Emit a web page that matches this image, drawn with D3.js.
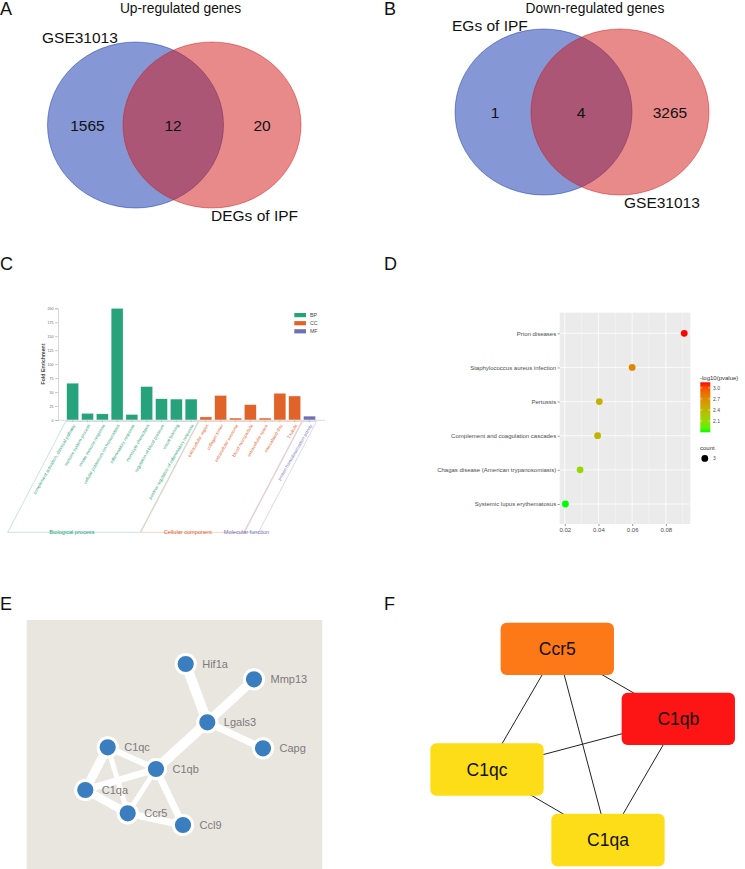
<!DOCTYPE html>
<html><head><meta charset="utf-8">
<script src="https://cdn.jsdelivr.net/npm/d3@7"></script>
<style>
body{margin:0;background:#fff}
svg{display:block}
text{font-family:"Liberation Sans",Arial,Helvetica,sans-serif}
</style>
</head><body>
<svg id="fig" width="745" height="869"></svg>
<script>
// ===================== DATA =====================
const upSetNames = ["GSE31013", "DEGs of IPF"];
const upCounts = [1565, 12, 20];            // left only, overlap, right only
const downSetNames = ["EGs of IPF", "GSE31013"];
const downCounts = [1, 4, 3265];

const goTerms = [
  "complement activation, classical pathway",
  "immune system process",
  "innate immune response",
  "cellular potassium ion homeostasis",
  "inflammatory response",
  "monocyte chemotaxis",
  "regulation of blood pressure",
  "visual learning",
  "positive regulation of inflammatory response",
  "extracellular region",
  "collagen trimer",
  "extracellular exosome",
  "blood microparticle",
  "extracellular space",
  "intercalated disc",
  "T-tubule",
  "protein homodimerization activity"
];
const goValues = [66, 12, 11, 200, 10, 60, 38, 37.5, 37.5, 5.5, 44, 3.5, 27.5, 3.5, 48, 43, 7];
const goGroups = ["BP","BP","BP","BP","BP","BP","BP","BP","BP","CC","CC","CC","CC","CC","CC","CC","MF"];
const goGroupKeys = ["BP", "CC", "MF"];
const goGroupNames = ["Biological process", "Cellular component", "Molecular function"];
const goYTicks = [0, 25, 50, 75, 100, 125, 150, 175, 200];

const keggTerms = [
  "Prion diseases",
  "Staphylococcus aureus infection",
  "Pertussis",
  "Complement and coagulation cascades",
  "Chagas disease (American trypanosomiasis)",
  "Systemic lupus erythematosus"
];
const keggRatio = [0.0909, 0.0600, 0.0405, 0.0395, 0.0291, 0.0204];
const keggLogP  = [3.15, 2.72, 2.43, 2.41, 2.12, 1.79];
const keggCount = [3, 3, 3, 3, 3, 3];
const keggXTicks = [0.02, 0.04, 0.06, 0.08];
const keggXMinor = [0.03, 0.05, 0.07, 0.09];
const keggColorTicks = [2.1, 2.4, 2.7, 3.0];
const keggCountTicks = [3];

const ppiNodes = ["Hif1a", "Mmp13", "Lgals3", "Capg", "C1qc", "C1qb", "C1qa", "Ccr5", "Ccl9"];
const ppiEdges = [
  ["Hif1a","Lgals3",0.95], ["Mmp13","Lgals3",0.85], ["Lgals3","Capg",0.65],
  ["Lgals3","C1qb",0.95], ["C1qc","C1qb",0.55], ["C1qc","C1qa",0.85],
  ["C1qc","Ccr5",0.45], ["C1qa","C1qb",0.65], ["C1qa","Ccr5",0.75],
  ["C1qb","Ccr5",0.45], ["C1qb","Ccl9",0.65], ["Ccr5","Ccl9",0.65]
];

const hubNodes = ["Ccr5", "C1qb", "C1qc", "C1qa"];
const hubRank  = [2, 1, 3, 3];
const hubEdges = [
  ["Ccr5","C1qc"], ["Ccr5","C1qa"], ["Ccr5","C1qb"],
  ["C1qb","C1qc"], ["C1qb","C1qa"], ["C1qc","C1qa"]
];

// ===================== LAYOUT (positions, not data) =====================
const svg = d3.select("#fig");
svg.append("rect").attr("width",745).attr("height",869).attr("fill","#fff");

function panelLabel(t, x, y){
  svg.append("text").attr("x",x).attr("y",y).attr("font-size",18).attr("fill","#111").text(t);
}

// ---------- Venn diagrams ----------
function venn(opts){
  const g = svg.append("g");
  g.append("ellipse").attr("cx",opts.c1[0]).attr("cy",opts.c1[1]).attr("rx",opts.r1[0]).attr("ry",opts.r1[1])
    .attr("fill","rgb(11,47,171)").attr("fill-opacity",0.5).attr("stroke","rgb(11,47,171)").attr("stroke-opacity",0.45).attr("stroke-width",1);
  g.append("ellipse").attr("cx",opts.c2[0]).attr("cy",opts.c2[1]).attr("rx",opts.r2[0]).attr("ry",opts.r2[1])
    .attr("fill","rgb(209,21,21)").attr("fill-opacity",0.5).attr("stroke","rgb(209,21,21)").attr("stroke-opacity",0.45).attr("stroke-width",1);
  g.append("text").attr("x",opts.title[0]).attr("y",opts.title[1]).attr("text-anchor","middle")
    .attr("font-size",13.8).attr("fill","#111").text(opts.titleText);
  opts.counts.forEach((c,i)=>{
    g.append("text").attr("x",opts.countX[i]).attr("y",opts.countY).attr("text-anchor","middle")
      .attr("font-size",15.5).attr("fill","#111").text(c);
  });
  opts.names.forEach((n,i)=>{
    g.append("text").attr("x",opts.nameXY[i][0]).attr("y",opts.nameXY[i][1])
      .attr("font-size",15.5).attr("fill","#111").text(n);
  });
}
venn({c1:[135.5,125], r1:[88,83], c2:[212,125], r2:[89,83],
  title:[180.5,13], titleText:"Up-regulated genes",
  counts:upCounts, countX:[87.5,173,262], countY:130.5,
  names:upSetNames, nameXY:[[42,43],[211,221]]});
venn({c1:[543.5,112], r1:[88.5,83], c2:[620,112], r2:[89,83],
  title:[595,13], titleText:"Down-regulated genes",
  counts:downCounts, countX:[495,581,670], countY:117.5,
  names:downSetNames, nameXY:[[452,31],[624,208]]});

panelLabel("A",0,15);
panelLabel("B",384,15);
panelLabel("C",0,270);
panelLabel("D",384,270);
panelLabel("E",0,610);
panelLabel("F",384,610);

// ---------- Panel C : GO bar chart ----------
(function(){
  const groupColor = d3.scaleOrdinal().domain(goGroupKeys).range(["#27a37b","#e0632a","#6f70b6"]);
  const x = d3.scaleBand().domain(goTerms).range([65.3, 316.9]).paddingInner(0.19).paddingOuter(0.095);
  const y = d3.scaleLinear().domain([0,200]).range([420,308.3]);
  const g = svg.append("g");

  // y axis
  const yAxis = g.append("g").attr("transform","translate(58,0)")
    .call(d3.axisLeft(y).tickValues(goYTicks).tickSize(3).tickPadding(1.5));
  yAxis.select(".domain").attr("stroke","#bbb").attr("stroke-width",0.6);
  yAxis.selectAll(".tick line").attr("stroke","#999").attr("stroke-width",0.5);
  yAxis.selectAll(".tick text").attr("font-size",3.6).attr("fill","#666").attr("font-family","Liberation Sans, Arial");

  g.append("text").attr("transform","translate(44.5,364) rotate(-90)").attr("text-anchor","middle")
    .attr("font-size",5.2).attr("font-weight","bold").attr("fill","#444").text("Fold Enrichment");

  // bars
  g.selectAll("rect.bar").data(goTerms).join("rect").attr("class","bar")
    .attr("x",d=>x(d)).attr("width",x.bandwidth())
    .attr("y",(d,i)=>y(goValues[i])).attr("height",(d,i)=>y(0)-y(goValues[i]))
    .attr("fill",(d,i)=>groupColor(goGroups[i]))
    .attr("stroke","#fff").attr("stroke-width",0.4);

  // x axis line + ticks
  g.append("line").attr("x1",58).attr("x2",325).attr("y1",420.3).attr("y2",420.3).attr("stroke","#c8c8c8").attr("stroke-width",0.7);
  g.selectAll("line.xt").data(goTerms).join("line").attr("class","xt")
    .attr("x1",d=>x(d)+x.bandwidth()/2).attr("x2",d=>x(d)+x.bandwidth()/2)
    .attr("y1",420.3).attr("y2",422.3).attr("stroke","#999").attr("stroke-width",0.4);

  // term labels
  g.selectAll("text.term").data(goTerms).join("text").attr("class","term")
    .attr("transform",d=>`translate(${x(d)+x.bandwidth()/2+1.5},424.5) rotate(-60)`)
    .attr("text-anchor","end").attr("dy","0.35em")
    .attr("font-size",4.4).attr("fill",(d,i)=>groupColor(goGroups[i])).text(d=>d);

  // group brackets
  const shift = 58, yTop = 421.5, yBot = 532.3;
  const labelNudge = {BP:-2, CC:-4.5, MF:-5};
  goGroupKeys.forEach((k,gi)=>{
    const terms = goTerms.filter((t,i)=>goGroups[i]===k);
    const l = x(terms[0]) - 1, r = x(terms[terms.length-1]) + x.bandwidth() + 1;
    const pts = [[l,yTop],[r,yTop],[r-shift,yBot],[l-shift,yBot]];
    g.append("path").attr("d","M"+pts.map(p=>p.join(",")).join("L")+"Z")
      .attr("fill","none").attr("stroke",groupColor(k)).attr("stroke-opacity",0.45).attr("stroke-width",0.6);
    const cx = (l+r)/2 - shift + labelNudge[k];
    g.append("text").attr("x",cx).attr("y",533.6).attr("text-anchor","middle")
      .attr("font-size",5.6).attr("fill",groupColor(k)).text(goGroupNames[gi]);
  });

  // legend
  goGroupKeys.forEach((k,i)=>{
    g.append("rect").attr("x",294.3).attr("y",313 + i*8.1).attr("width",11.7).attr("height",4.2).attr("fill",groupColor(k));
    g.append("text").attr("x",310).attr("y",317.2 + i*8.1).attr("font-size",5.2).attr("fill","#444").text(k);
  });
})();

// ---------- Panel D : KEGG dot plot ----------
(function(){
  const g = svg.append("g");
  const x = d3.scaleLinear().domain([0.017,0.0945]).range([559.7,690.3]);
  const y = d3.scalePoint().domain(keggTerms).range([333.3,504]);
  const cExt = d3.extent(keggLogP);
  const color = d3.scaleSequential(d3.interpolateLab("#00ff00","#ff0000")).domain(cExt);
  const size = d3.scaleSqrt().domain([0,3]).range([0,3.4]);

  g.append("rect").attr("x",559.7).attr("y",312.7).attr("width",130.6).attr("height",211.3).attr("fill","#ebebeb");
  g.selectAll("line.minor").data(keggXMinor).join("line").attr("class","minor")
    .attr("x1",d=>x(d)).attr("x2",d=>x(d)).attr("y1",312.7).attr("y2",524).attr("stroke","#fff").attr("stroke-width",0.35);
  g.selectAll("line.major").data(keggXTicks).join("line").attr("class","major")
    .attr("x1",d=>x(d)).attr("x2",d=>x(d)).attr("y1",312.7).attr("y2",524).attr("stroke","#fff").attr("stroke-width",0.75);
  g.selectAll("line.hmajor").data(keggTerms).join("line").attr("class","hmajor")
    .attr("x1",559.7).attr("x2",690.3).attr("y1",d=>y(d)).attr("y2",d=>y(d)).attr("stroke","#fff").attr("stroke-width",0.75);

  // axes
  const xa = g.append("g").attr("transform","translate(0,524)").call(d3.axisBottom(x).tickValues(keggXTicks).tickSize(2).tickPadding(1.5).tickFormat(d3.format(".2f")));
  xa.select(".domain").remove();
  xa.selectAll(".tick line").attr("stroke","#333").attr("stroke-width",0.5);
  xa.selectAll(".tick text").attr("font-size",6).attr("fill","#4d4d4d").attr("font-family","Liberation Sans, Arial");
  const ya = g.append("g").attr("transform","translate(559.7,0)").call(d3.axisLeft(y).tickSize(2).tickPadding(1.5));
  ya.select(".domain").remove();
  ya.selectAll(".tick line").attr("stroke","#333").attr("stroke-width",0.5);
  ya.selectAll(".tick text").attr("font-size",6).attr("fill","#4d4d4d").attr("font-family","Liberation Sans, Arial");

  // points
  g.selectAll("circle.pt").data(keggTerms).join("circle").attr("class","pt")
    .attr("cx",(d,i)=>x(keggRatio[i])).attr("cy",d=>y(d)).attr("r",(d,i)=>size(keggCount[i]))
    .attr("fill",(d,i)=>color(keggLogP[i]));

  // colour legend
  const defs = svg.append("defs");
  const grad = defs.append("linearGradient").attr("id","kgrad").attr("x1",0).attr("y1",1).attr("x2",0).attr("y2",0);
  d3.range(0,1.0001,0.1).forEach(t=>{
    grad.append("stop").attr("offset",t).attr("stop-color",color(cExt[0]+t*(cExt[1]-cExt[0])));
  });
  const cy = d3.scaleLinear().domain(cExt).range([432.3,382.3]);
  g.append("text").attr("x",700).attr("y",379.5).attr("font-size",6).attr("fill","#333").text("-log10(pvalue)");
  g.append("rect").attr("x",700.3).attr("y",382.3).attr("width",10).attr("height",50).attr("fill","url(#kgrad)");
  keggColorTicks.forEach(v=>{
    g.append("line").attr("x1",700.3).attr("x2",702.3).attr("y1",cy(v)).attr("y2",cy(v)).attr("stroke","#fff").attr("stroke-width",0.5);
    g.append("line").attr("x1",708.3).attr("x2",710.3).attr("y1",cy(v)).attr("y2",cy(v)).attr("stroke","#fff").attr("stroke-width",0.5);
    g.append("text").attr("x",713).attr("y",cy(v)).attr("dy","0.35em").attr("font-size",5).attr("fill","#4d4d4d").text(v.toFixed(1));
  });
  g.append("text").attr("x",700).attr("y",449.5).attr("font-size",6).attr("fill","#333").text("count");
  keggCountTicks.forEach((v,i)=>{
    g.append("circle").attr("cx",704.8).attr("cy",458.4 + i*10).attr("r",size(v)).attr("fill","#000");
    g.append("text").attr("x",713).attr("y",458.4 + i*10).attr("dy","0.35em").attr("font-size",5).attr("fill","#4d4d4d").text(v);
  });
})();

// ---------- Panel E : STRING-like network ----------
(function(){
  const layout = {Hif1a:[185.7,664], Mmp13:[254,679.3], Lgals3:[207.3,722.3], Capg:[263,748.3],
    C1qc:[107.7,747.3], C1qb:[156,769], C1qa:[85.3,790], Ccr5:[127.7,813.3], Ccl9:[183,825]};
  const px = d3.scaleLinear().domain([0,1]).range([0,1]);
  const w = d3.scaleLinear().domain([0.45,0.95]).range([5,10]);
  const g = svg.append("g");
  g.append("rect").attr("x",26.7).attr("y",620).attr("width",295.6).attr("height",249).attr("fill","#e9e6e0");
  g.selectAll("line.e").data(ppiEdges).join("line").attr("class","e")
    .attr("x1",d=>px(layout[d[0]][0])).attr("y1",d=>px(layout[d[0]][1]))
    .attr("x2",d=>px(layout[d[1]][0])).attr("y2",d=>px(layout[d[1]][1]))
    .attr("stroke","#fff").attr("stroke-width",d=>w(d[2])).attr("stroke-linecap","round");
  g.selectAll("circle.n").data(ppiNodes).join("circle").attr("class","n")
    .attr("cx",d=>px(layout[d][0])).attr("cy",d=>px(layout[d][1])).attr("r",9.6)
    .attr("fill","#3b7ebf").attr("stroke","#fff").attr("stroke-width",3);
  g.selectAll("text.n").data(ppiNodes).join("text").attr("class","n")
    .attr("x",d=>px(layout[d][0])+16.5).attr("y",d=>px(layout[d][1])+3.8)
    .attr("font-size",11).attr("fill","#7b7b7b").text(d=>d);
})();

// ---------- Panel F : hub genes ----------
(function(){
  const layout = {Ccr5:[557.3,648.8], C1qb:[678.3,718.8], C1qc:[487,769.5], C1qa:[608,840]};
  const rankColor = d3.scaleOrdinal().domain([1,2,3]).range(["#fd1414","#fd7816","#fddd17"]);
  const bw = 113.3, bh = 52.3;
  const g = svg.append("g");
  g.selectAll("line.h").data(hubEdges).join("line").attr("class","h")
    .attr("x1",d=>layout[d[0]][0]).attr("y1",d=>layout[d[0]][1])
    .attr("x2",d=>layout[d[1]][0]).attr("y2",d=>layout[d[1]][1])
    .attr("stroke","#222").attr("stroke-width",1);
  g.selectAll("rect.h").data(hubNodes).join("rect").attr("class","h")
    .attr("x",d=>layout[d][0]-bw/2).attr("y",d=>layout[d][1]-bh/2).attr("width",bw).attr("height",bh)
    .attr("rx",6).attr("fill",(d,i)=>rankColor(hubRank[i]));
  g.selectAll("text.h").data(hubNodes).join("text").attr("class","h")
    .attr("x",d=>layout[d][0]).attr("y",d=>layout[d][1]+6.2).attr("text-anchor","middle")
    .attr("font-size",17.5).attr("fill","#111").text(d=>d);
})();
</script>
</body></html>
